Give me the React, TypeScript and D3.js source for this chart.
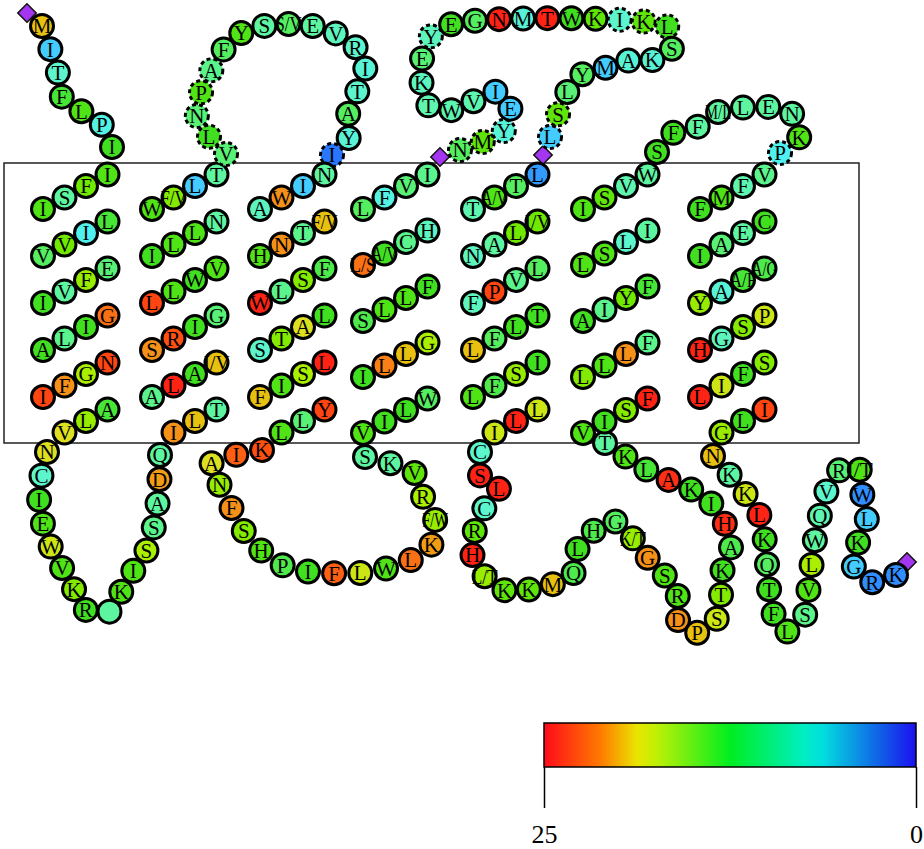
import React, { useEffect, useRef } from 'react'
import * as d3 from 'd3'

// conservation score per residue (25 = red ... 0 = blue)

// ---- loops (sequence order) ----
const NTERM_RES = ['M', 'I', 'T', 'F', 'L', 'P', 'I']
const NTERM_VAL = [18.5, 5, 8, 12, 13, 7, 12.5]

const ICL1_RES = ['N', 'C', 'I', 'E', 'W', 'V', 'K', 'R', '', 'K', 'I', 'S', 'S', 'A', 'D', 'Q']
const ICL1_VAL = [17, 8, 12.5, 13, 16.5, 13, 14.5, 12.5, 9.5, 13, 13, 15.5, 10, 9.5, 20, 9.5]

const ECL1_RES = ['V', 'L', 'N', 'P', 'A', 'F', 'Y', 'S', 'S/V', 'E', 'V', 'R', 'I', 'T', 'A', 'Y', 'I']
const ECL1_VAL = [10.5, 12.5, 10.5, 13, 10, 11, 13, 9.5, 11, 9.5, 8.5, 8, 7.5, 8, 11, 7.5, 1.5]
const ECL1_DASHED = [0, 1, 2, 3, 4, 16]

const ICL2_RES = ['K', 'I', 'A', 'N', 'F', 'S', 'H', 'P', 'I', 'F', 'L', 'W', 'L', 'K', 'F/W', 'R', 'V', 'K', 'S']
const ICL2_VAL = [22.5, 22, 17, 15, 20.5, 14.5, 13, 11.5, 12.5, 22, 16.5, 13, 21.5, 20, 15, 15.5, 13.5, 9.5, 9.5]

const ECL2_RES = ['N', 'M', 'Y', 'E', 'I', 'V', 'W', 'T', 'K', 'E', 'Y', 'E', 'G', 'N', 'M', 'T', 'W', 'K',
  'I', 'K', 'L', 'S', 'K', 'A', 'M', 'Y', 'L', 'S', 'L']
const ECL2_VAL = [11, 13.5, 7.5, 5, 5, 9, 9, 9, 8.5, 10.5, 8.5, 12.5, 11, 24.5, 7.5, 24.5, 12.5, 13.5,
  8, 13.5, 12.5, 11, 7.5, 7.5, 5, 11, 10.5, 13.5, 5]
const ECL2_DASHED = [0, 1, 2, 10, 18, 19, 20, 27, 28]

const ICL3_RES = ['C', 'S', 'L', 'C', 'R', 'H', 'L/T', 'K', 'K', 'M', 'Q', 'L', 'H', 'G', 'K/T', 'G', 'S', 'R',
  'D', 'P', 'S', 'T', 'K', 'A', 'H', 'I', 'K', 'A', 'L', 'K', 'T']
const ICL3_VAL = [8, 24.5, 24.5, 8, 13.5, 24.5, 15, 13.5, 13.5, 18.5, 11.5, 12.5, 11.5, 11, 15, 20.5, 13, 13,
  20.5, 18.5, 16.5, 14.5, 12.5, 11.5, 24, 12.5, 12.5, 24, 12, 13, 9.5]

const ECL3_RES = ['S', 'F', 'F', 'M/L', 'L', 'E', 'N', 'K', 'P']
const ECL3_VAL = [12.5, 12.5, 9.5, 9.5, 9.5, 9.5, 9.5, 13, 6.5]
const ECL3_DASHED = [8]

const CTERM_RES = ['N', 'K', 'K', 'L', 'K', 'Q', 'T', 'F', 'L', 'S', 'V', 'L', 'W', 'Q', 'V', 'R', 'I/T',
  'W', 'L', 'K', 'G', 'R', 'K']
const CTERM_VAL = [18.5, 9.5, 16.5, 24.5, 12.5, 11, 12.5, 12.5, 13, 10, 13, 15.5, 9.5, 9, 8, 10.5, 13,
  2.5, 5, 12.5, 5, 2.5, 2.5]

// ---- helices, rows as seen left -> right, top row first ----
const TM1_RES = [['I', 'S', 'F', 'I'], ['V', 'V', 'I', 'L'], ['I', 'V', 'F', 'E'], ['A', 'L', 'I', 'G'], ['I', 'F', 'G', 'N'], [null, 'V', 'L', 'A']]
const TM1_VAL = [[13, 9.5, 14, 13], [11, 14, 6.5, 12], [12.5, 9.5, 15, 10.5], [12.5, 10, 12.5, 21.5], [23, 20.5, 15.5, 23], [null, 17, 15, 12]]

const TM2_RES = [['W', 'F/V', 'L', 'T'], ['I', 'L', 'L', 'N'], ['L', 'L', 'W', 'V'], ['S', 'R', 'I', 'G'], ['A', 'L', 'A', 'I/V'], [null, 'I', 'L', 'T']]
const TM2_VAL = [[13, 14.5, 5, 9.5], [12.5, 13, 13, 9.5], [23, 13, 12.5, 13], [20.5, 22.5, 12.5, 10.5], [10, 24.5, 12.5, 18.5], [null, 20.5, 18.5, 9.5]]

const TM3_RES = [['A', 'W', 'I', 'N'], ['H', 'N', 'T', 'F/V'], ['W', 'L', 'S', 'F'], ['S', 'T', 'A', 'L'], ['F', 'I', 'S', 'L'], [null, 'L', 'L', 'Y']]
const TM3_VAL = [[8.5, 20.5, 5, 9.5], [13, 20.5, 10, 18.5], [24.5, 10, 14.5, 11.5], [8, 14.5, 17, 12.5], [18.5, 13, 15.5, 24.5], [null, 13, 10.5, 23]]

const TM4_RES = [['L', 'F', 'V', 'I'], ['L/S', 'A/V', 'C', 'H'], ['S', 'L', 'L', 'F'], ['I', 'L', 'L', 'G'], ['V', 'I', 'L', 'W']]
const TM4_VAL = [[11, 7, 10.5, 10], [21.5, 12.5, 10, 8.5], [11.5, 13, 13, 12.5], [12.5, 21, 18.5, 15.5], [13, 12.5, 12.5, 11]]

const TM5_RES = [['T', 'A/V', 'T', 'L'], ['N', 'A', 'L', 'I/V'], ['F', 'P', 'V', 'L'], ['L', 'F', 'L', 'T'], ['L', 'F', 'S', 'I'], [null, 'I', 'L', 'L']]
const TM5_VAL = [[9, 13, 11, 3], [8.5, 9.5, 14, 14], [8.5, 23, 10, 11], [18.5, 11, 12.5, 12.5], [13, 11.5, 15, 12.5], [null, 16.5, 24.5, 16.5]]

const TM6_RES = [['I', 'S', 'V', 'W'], ['L', 'S', 'L', 'I'], ['A', 'I', 'Y', 'F'], ['L', 'L', 'L', 'F'], ['V', 'I', 'S', 'F']]
const TM6_VAL = [[13, 13.5, 9, 9.5], [13, 13, 8, 9.5], [12.5, 10, 14, 12], [14.5, 13, 20.5, 10], [13, 12.5, 14.5, 24.5]]

const TM7_RES = [['F', 'M', 'F', 'V'], ['I', 'A', 'E', 'C'], ['Y', 'A', 'A/F', 'A/G'], ['H', 'G', 'S', 'P'], ['L', 'I', 'F', 'S'], [null, 'G', 'L', 'I']]
const TM7_VAL = [[12.5, 13, 9, 10], [12.5, 10.5, 9.5, 12.5], [15, 7.5, 12, 11.5], [24.5, 8.5, 14.5, 16.5], [24.5, 16.5, 12.5, 14.5], [null, 15, 12.5, 23]]

const LEGEND_TICKS = [25, 0]

// ---- layout ----
const W = 924
const H = 849
const MEMBRANE = { x: 4, y: 163, w: 855, h: 280 }
const HELIX_X = { tm1: 43, tm2: 152, tm3: 260, tm4: 363, tm5: 473, tm6: 583, tm7: 700 }
const ROW0_Y = 209
const COL_DX = 21.5
const COL_DY = -11.5
const R = 11.5

// guide curves the loop residues are spread along
const GUIDES: Record<string, [number, number][]> = {
  nterm: [[42, 26], [58, 73], [62, 97], [102, 125], [112, 147]],
  icl1: [[47, 452], [39, 496], [48, 540], [72, 585], [86, 610], [113, 610], [124, 585], [148, 547], [158, 500], [160, 455]],
  ecl1: [[226, 154], [197, 117], [210, 73], [238, 35], [287, 24], [335, 33], [365, 62], [348, 115], [348, 140], [332, 155]],
  icl2: [[262, 450], [209, 466], [223, 490], [246, 534], [282, 565], [330, 573], [380, 570], [427, 550], [437, 527], [424, 500], [417, 475], [365, 457]],
  ecl2: [[460, 150], [480, 143], [502, 133], [511, 112], [498, 92], [453, 110], [428, 105], [422, 59], [432, 35], [452, 24],
    [647, 22], [670, 29], [670, 53], [647, 61], [623, 61], [600, 70], [577, 77], [565, 97], [550, 137]],
  icl3: [[480, 452], [478, 473], [499, 487], [485, 507], [472, 553], [501, 589], [549, 585], [572, 576], [577, 550], [613, 521],
    [646, 556], [677, 593], [677, 618], [693, 633], [716, 620], [723, 568], [731, 545], [710, 502], [647, 470], [605, 443]],
  ecl3: [[657, 152], [673, 133], [697, 127], [718, 112], [790, 112], [799, 138], [780, 153]],
  cterm: [[713, 456], [758, 512], [764, 535], [773, 612], [784, 632], [804, 617], [808, 593], [819, 519], [836, 473], [857, 465],
    [862, 493], [867, 517], [853, 564], [871, 582], [896, 575]],
}
const MARKERS: [number, number][] = [[27, 13], [440, 157], [543, 155], [907, 562]]

const SEGMENTS: any[] = [
  { type: 'loop', key: 'nterm', res: NTERM_RES, val: NTERM_VAL, dashed: [] },
  { type: 'helix', key: 'tm1', res: TM1_RES, val: TM1_VAL, down: true },
  { type: 'loop', key: 'icl1', res: ICL1_RES, val: ICL1_VAL, dashed: [] },
  { type: 'helix', key: 'tm2', res: TM2_RES, val: TM2_VAL, down: false },
  { type: 'loop', key: 'ecl1', res: ECL1_RES, val: ECL1_VAL, dashed: ECL1_DASHED },
  { type: 'helix', key: 'tm3', res: TM3_RES, val: TM3_VAL, down: true },
  { type: 'loop', key: 'icl2', res: ICL2_RES, val: ICL2_VAL, dashed: [] },
  { type: 'helix', key: 'tm4', res: TM4_RES, val: TM4_VAL, down: false },
  { type: 'loop', key: 'ecl2', res: ECL2_RES, val: ECL2_VAL, dashed: ECL2_DASHED },
  { type: 'helix', key: 'tm5', res: TM5_RES, val: TM5_VAL, down: true },
  { type: 'loop', key: 'icl3', res: ICL3_RES, val: ICL3_VAL, dashed: [] },
  { type: 'helix', key: 'tm6', res: TM6_RES, val: TM6_VAL, down: false },
  { type: 'loop', key: 'ecl3', res: ECL3_RES, val: ECL3_VAL, dashed: ECL3_DASHED },
  { type: 'helix', key: 'tm7', res: TM7_RES, val: TM7_VAL, down: true },
  { type: 'loop', key: 'cterm', res: CTERM_RES, val: CTERM_VAL, dashed: [] },
]

const FONT = "'Liberation Serif', 'Times New Roman', serif"

const residueColor = d3.scaleLinear<string>()
  .domain([0, 3, 5, 6.5, 8, 9.5, 11, 12.5, 14, 15.5, 17, 18.5, 20.5, 22.5, 25])
  .range(['#1f55ff', '#3399ff', '#44ccff', '#4ff0ee', '#5cf5cc', '#5ef5a0', '#55ee60', '#40e020', '#70e800',
    '#aaee00', '#dde020', '#e8c010', '#f59018', '#ff5010', '#ff1818'])

const legendColor = d3.scaleLinear<string>()
  .domain([25, 21.2, 18.5, 12.5, 6.75, 0])
  .range(['#ff0a1a', '#ff7a00', '#e8f000', '#00ee20', '#00eedd', '#1a10ee'])

export default function App() {
  const ref = useRef<SVGSVGElement>(null)

  useEffect(() => {
    const svg = d3.select(ref.current)
    svg.selectAll('*').remove()

    // work out where every residue goes, in sequence order
    const residues: any[] = []
    const line = d3.line().curve(d3.curveCatmullRom.alpha(0.5))
    SEGMENTS.forEach(seg => {
      if (seg.type === 'helix') {
        const nRows = seg.res.length
        const rowGap = nRows === 5 ? 56 : 47
        const rows = d3.range(nRows)
        const order = seg.down ? rows : rows.slice().reverse()
        order.forEach(r => {
          const cols = seg.down ? [3, 2, 1, 0] : [0, 1, 2, 3]
          cols.forEach(c => {
            const label = seg.res[r][c]
            if (label === null) return
            residues.push({
              x: HELIX_X[seg.key] + c * COL_DX,
              y: ROW0_Y + r * rowGap + c * COL_DY,
              label, value: seg.val[r][c], dashed: false,
            })
          })
        })
      } else {
        const tmp = svg.append('path').attr('d', line(GUIDES[seg.key])).attr('fill', 'none')
        const node = tmp.node() as SVGPathElement
        const len = node.getTotalLength()
        const n = seg.res.length
        seg.res.forEach((label: string, i: number) => {
          const p = node.getPointAtLength(n === 1 ? 0 : (len * i) / (n - 1))
          residues.push({ x: p.x, y: p.y, label, value: seg.val[i], dashed: seg.dashed.includes(i) })
        })
        tmp.remove()
      }
    })

    // membrane
    svg.append('rect')
      .attr('x', MEMBRANE.x).attr('y', MEMBRANE.y)
      .attr('width', MEMBRANE.w).attr('height', MEMBRANE.h)
      .attr('fill', 'none').attr('stroke', '#222').attr('stroke-width', 1.5)

    // purple markers
    svg.append('g').selectAll('rect')
      .data(MARKERS)
      .join('rect')
      .attr('x', -6.5).attr('y', -6.5).attr('width', 13).attr('height', 13)
      .attr('transform', d => `translate(${d[0]},${d[1]}) rotate(45)`)
      .attr('fill', '#a435f0').attr('stroke', '#111').attr('stroke-width', 1.5)

    // residues, each circle then its letter so later circles cover overflow
    const g = svg.append('g').selectAll('g')
      .data(residues)
      .join('g')
      .attr('transform', d => `translate(${d.x},${d.y})`)

    g.append('circle')
      .attr('r', R)
      .attr('fill', d => residueColor(d.value))
      .attr('stroke', '#000')
      .attr('stroke-width', 3)
      .attr('stroke-dasharray', d => (d.dashed ? '4,3' : null))

    g.filter(d => d.label !== '')
      .append('text')
      .attr('text-anchor', 'middle')
      .attr('dy', '0.35em')
      .attr('font-family', FONT)
      .attr('font-size', 21)
      .attr('fill', '#000')
      .attr('textLength', d => (d.label.length > 1 ? 26 : null))
      .attr('lengthAdjust', d => (d.label.length > 1 ? 'spacingAndGlyphs' : null))
      .text(d => d.label)

    // colour legend
    const lx = d3.scaleLinear().domain([25, 0]).range([544, 916])
    const grad = svg.append('defs').append('linearGradient').attr('id', 'scoreGrad')
    grad.selectAll('stop')
      .data(d3.range(0, 1.0001, 0.05))
      .join('stop')
      .attr('offset', d => d)
      .attr('stop-color', d => legendColor(25 - 25 * d))

    svg.append('rect')
      .attr('x', lx(25)).attr('y', 723)
      .attr('width', lx(0) - lx(25)).attr('height', 44)
      .attr('fill', 'url(#scoreGrad)')
      .attr('stroke', '#000').attr('stroke-width', 1.5)

    const axis = svg.append('g')
      .attr('transform', 'translate(0,767)')
      .call(d3.axisBottom(lx).tickValues(LEGEND_TICKS).tickSize(41).tickPadding(17).tickFormat(d3.format('d')))
    axis.select('.domain').remove()
    axis.selectAll('line').attr('stroke', '#000').attr('stroke-width', 1.5)
    axis.selectAll('text')
      .attr('font-family', FONT)
      .attr('font-size', 26)
      .attr('fill', '#000')
  }, [])

  return (
    <div style={{ position: 'absolute', left: 0, top: 0 }}>
      <svg ref={ref} width={W} height={H} />
    </div>
  )
}
